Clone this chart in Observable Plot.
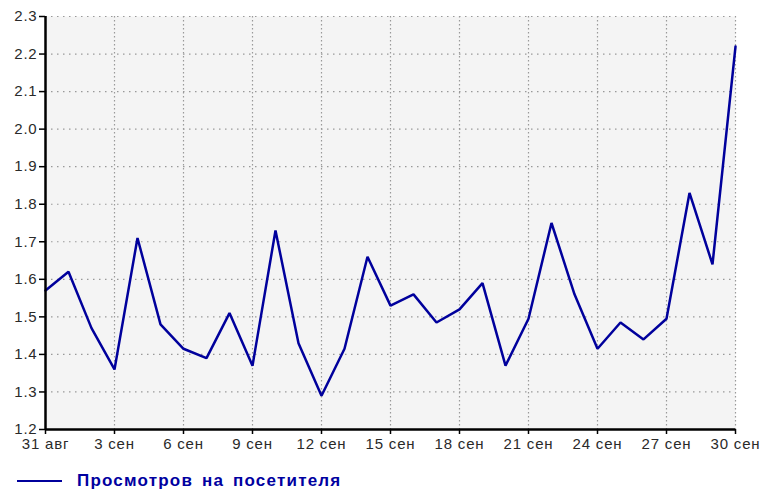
<!DOCTYPE html>
<html><head><meta charset="utf-8">
<script src="https://cdn.jsdelivr.net/npm/d3@7"></script>
<script src="https://cdn.jsdelivr.net/npm/@observablehq/plot@0.6"></script>
<style>
body{margin:0;background:#fff;font-family:"Liberation Sans",Arial,sans-serif;}
#chart{position:absolute;left:0;top:0;}
#chart svg text{font-size:15px !important;letter-spacing:0.8px;font-family:"Liberation Sans",Arial,sans-serif;}
#legend{position:absolute;left:17px;top:470px;display:flex;align-items:center;height:22px;}
#legend .sw{display:inline-block;width:45px;height:2px;background:#00009c;margin-right:15px;}
#legend .lt{font-weight:bold;font-size:17px;color:#0000a0;letter-spacing:1.2px;word-spacing:3px;}
</style></head><body>
<div id="chart"></div>
<div id="legend"><span class="sw"></span><span class="lt"></span></div>
<script>
const seriesName = "Просмотров на посетителя";
const dates = ["2015-08-31","2015-09-01","2015-09-02","2015-09-03","2015-09-04","2015-09-05","2015-09-06","2015-09-07","2015-09-08","2015-09-09","2015-09-10","2015-09-11","2015-09-12","2015-09-13","2015-09-14","2015-09-15","2015-09-16","2015-09-17","2015-09-18","2015-09-19","2015-09-20","2015-09-21","2015-09-22","2015-09-23","2015-09-24","2015-09-25","2015-09-26","2015-09-27","2015-09-28","2015-09-29","2015-09-30"];
const values = [1.57,1.62,1.47,1.36,1.71,1.48,1.415,1.39,1.51,1.37,1.73,1.43,1.29,1.415,1.66,1.53,1.56,1.485,1.52,1.59,1.37,1.495,1.75,1.56,1.415,1.485,1.44,1.495,1.83,1.64,2.22];
const yTicks = [1.2,1.3,1.4,1.5,1.6,1.7,1.8,1.9,2.0,2.1,2.2,2.3];
const xTickDates = ["2015-08-31","2015-09-03","2015-09-06","2015-09-09","2015-09-12","2015-09-15","2015-09-18","2015-09-21","2015-09-24","2015-09-27","2015-09-30"];
const xTickLabels = ["31 авг","3 сен","6 сен","9 сен","12 сен","15 сен","18 сен","21 сен","24 сен","27 сен","30 сен"];

const data = dates.map((d,i)=>({date:new Date(d), value:values[i]}));
const tickDates = xTickDates.map(d=>new Date(d));
const tickRows = tickDates.map((d,i)=>({date:d, label:xTickLabels[i]}));

const chart = Plot.plot({
  width:760, height:460,
  marginLeft:45, marginRight:25, marginTop:16, marginBottom:31,
  style:{fontFamily:"Liberation Sans, Arial, sans-serif", fontSize:"15px", color:"#333", background:"#fff", overflow:"visible"},
  x:{type:"utc", domain:[tickDates[0], tickDates[tickDates.length-1]]},
  y:{domain:[1.2,2.3]},
  marks:[
    Plot.frame({fill:"#f4f4f4", stroke:null}),
    Plot.ruleY(yTicks.slice(1), {stroke:"#999", strokeDasharray:"1.5,4.5", strokeWidth:1.2}),
    Plot.ruleX(tickDates.slice(1), {stroke:"#999", strokeDasharray:"1.5,2.5", strokeWidth:1.2}),
    Plot.line(data, {x:"date", y:"value", stroke:"#00009c", strokeWidth:2.5, strokeLinejoin:"miter"}),
    Plot.axisY({ticks:yTicks, tickFormat:d=>d.toFixed(1), tickSize:6, tickPadding:2, stroke:"#000", strokeWidth:1.5, fill:"#2a2a2a", label:null}),
    Plot.axisX({ticks:tickDates, tickFormat:()=>"", tickSize:5, stroke:"#000", strokeWidth:1.5, label:null}),
    Plot.text(tickRows, {x:"date", y:()=>1.2, text:"label", textAnchor:"middle", lineAnchor:"top", dy:9, fill:"#2a2a2a"}),
    Plot.ruleY([1.2], {stroke:"#000", strokeWidth:2.5}),
    Plot.ruleX([tickDates[0]], {stroke:"#000", strokeWidth:2.5})
  ]
});
document.getElementById("chart").append(chart);
document.querySelector("#legend .lt").textContent = seriesName;
</script>
</body></html>
